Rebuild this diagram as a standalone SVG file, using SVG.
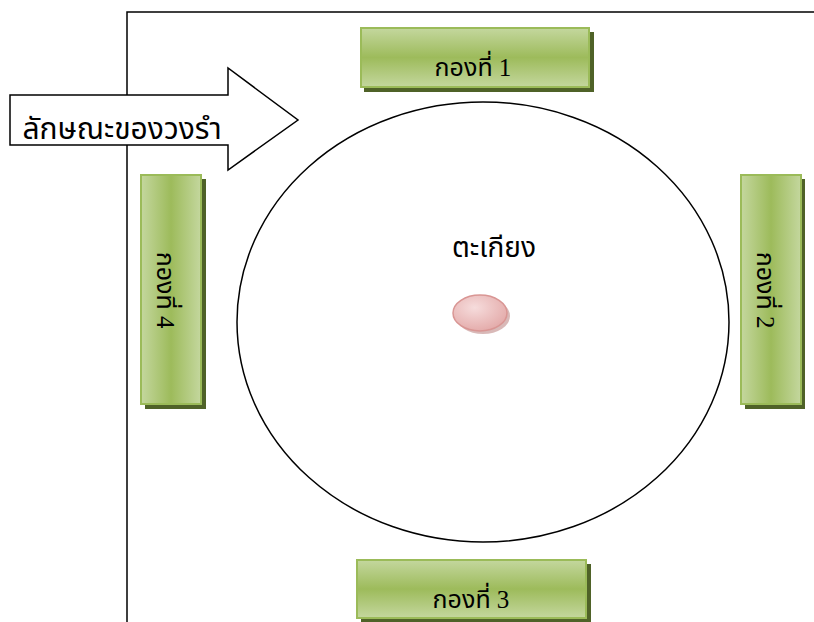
<svg xmlns="http://www.w3.org/2000/svg" width="814" height="622" viewBox="0 0 814 622">
<defs>
<linearGradient id="gv" x1="0" y1="0" x2="0" y2="1">
<stop offset="0" stop-color="#C4D79E"/>
<stop offset="0.5" stop-color="#9DBB5B"/>
<stop offset="1" stop-color="#C4D79E"/>
</linearGradient>
<linearGradient id="gh" x1="0" y1="0" x2="1" y2="0">
<stop offset="0" stop-color="#C4D79E"/>
<stop offset="0.5" stop-color="#9DBB5B"/>
<stop offset="1" stop-color="#C4D79E"/>
</linearGradient>
<radialGradient id="gp" cx="0.4" cy="0.35" r="0.7">
<stop offset="0" stop-color="#F6DCDC"/>
<stop offset="1" stop-color="#E3A9A8"/>
</radialGradient>
<style>
.shadow{fill:#4F6228}
.box{stroke:#9BBB59;stroke-width:2}
.t{font-family:"Liberation Serif","Noto Sans Thai","DejaVu Sans",serif;font-size:25px;fill:#000}
.big{font-size:30px}
.mid{font-size:28px}
.line{fill:none;stroke:#000;stroke-width:1.5}
</style>
</defs>
<g id="frame">
<polyline class="line" points="127,622 127,12 814,12"/>
</g>
<g id="circle">
<ellipse cx="483" cy="322" rx="246" ry="220" fill="#fff" stroke="#000" stroke-width="1.5"/>
</g>
<g id="arrow">
<polygon points="10,95 228,95 228,68 298,120 228,170 228,145 10,145" fill="#fff" stroke="#000" stroke-width="1.5"/>
<text class="t big" x="122" y="139" text-anchor="middle">ลักษณะของวงรำ</text>
</g>
<g id="lamp">
<ellipse cx="483" cy="316" rx="27" ry="18" fill="#C08A89" opacity="0.6"/>
<ellipse cx="480" cy="313" rx="27" ry="18" fill="url(#gp)" stroke="#D99694" stroke-width="1.5"/>
<text class="t mid" x="494" y="257" text-anchor="middle">ตะเกียง</text>
</g>
<g id="group1">
<rect class="shadow" x="364" y="32" width="230" height="60"/>
<rect class="box" x="361" y="28" width="228" height="59" fill="url(#gv)"/>
<text class="t" x="473" y="76" text-anchor="middle">กองที่ 1</text>
</g>
<g id="group3">
<rect class="shadow" x="361" y="564" width="230" height="58"/>
<rect class="box" x="357" y="560" width="229" height="58" fill="url(#gv)"/>
<text class="t" x="471" y="608" text-anchor="middle">กองที่ 3</text>
</g>
<g id="group4">
<rect class="shadow" x="145" y="179" width="61" height="230"/>
<rect class="box" x="141" y="175" width="60" height="229" fill="url(#gh)"/>
<text class="t" transform="translate(157,290) rotate(90)" text-anchor="middle">กองที่ 4</text>
</g>
<g id="group2">
<rect class="shadow" x="745" y="179" width="60" height="230"/>
<rect class="box" x="741" y="175" width="60" height="229" fill="url(#gh)"/>
<text class="t" transform="translate(757,290) rotate(90)" text-anchor="middle">กองที่ 2</text>
</g>
</svg>
